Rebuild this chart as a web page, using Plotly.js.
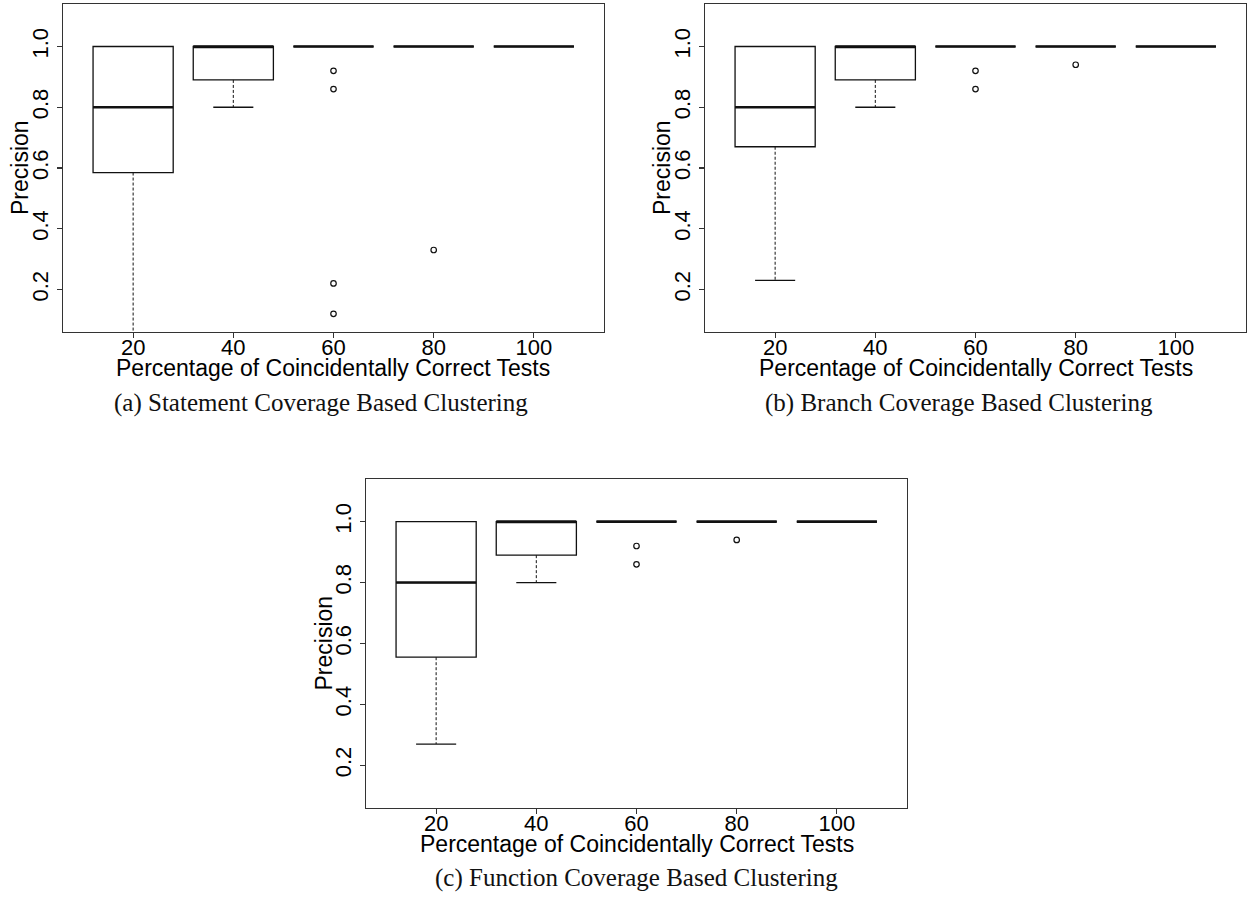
<!DOCTYPE html>
<html>
<head>
<meta charset="utf-8">
<script src="https://cdn.plot.ly/plotly-3.0.1.min.js"></script>
<style>
  html, body { margin: 0; padding: 0; background: #fff; }
  #chart { width: 1247px; height: 899px; }
</style>
</head>
<body>
<div id="chart"></div>
<script>
// ---- Data ----
const categories = ['20', '40', '60', '80', '100'];
const tickVals = [0.2, 0.4, 0.6, 0.8, 1.0];
const tickText = ['0.2', '0.4', '0.6', '0.8', '1.0'];

// (a) Statement coverage
const q1A = [0.585, 0.89, 1, 1, 1];
const medA = [0.8, 1, 1, 1, 1];
const q3A = [1, 1, 1, 1, 1];
const lowA = [0.0, 0.8, 1, 1, 1];
const highA = [1, 1, 1, 1, 1];
const outCatA = ['60', '60', '60', '60', '80'];
const outValA = [0.92, 0.86, 0.22, 0.12, 0.33];

// (b) Branch coverage
const q1B = [0.67, 0.89, 1, 1, 1];
const medB = [0.8, 1, 1, 1, 1];
const q3B = [1, 1, 1, 1, 1];
const lowB = [0.23, 0.8, 1, 1, 1];
const highB = [1, 1, 1, 1, 1];
const outCatB = ['60', '60', '80'];
const outValB = [0.92, 0.86, 0.94];

// (c) Function coverage
const q1C = [0.555, 0.89, 1, 1, 1];
const medC = [0.8, 1, 1, 1, 1];
const q3C = [1, 1, 1, 1, 1];
const lowC = [0.27, 0.8, 1, 1, 1];
const highC = [1, 1, 1, 1, 1];
const outCatC = ['60', '60', '80'];
const outValC = [0.92, 0.86, 0.94];

const captions = [
  '(a) Statement Coverage Based Clustering',
  '(b) Branch Coverage Based Clustering',
  '(c) Function Coverage Based Clustering'
];
const xTitle = 'Percentage of Coincidentally Correct Tests';
const yTitle = 'Precision';

// ---- Styles ----
const INK = '#111';
const FRAME = '#333';
const SANS = 'Liberation Sans, Arial, Helvetica, sans-serif';
const SERIF = 'Liberation Serif, Times New Roman, serif';
const BOXW = 0.8;
const STAPLE = 0.2;

const pos = categories.map((c, i) => i + 1);
const catPos = c => categories.indexOf(c) + 1;

function panelTraces(q1, med, q3, low, high, outCat, outVal, xa, ya) {
  const traces = [];
  traces.push({
    type: 'box', x: pos, q1: q1, median: med, q3: q3,
    lowerfence: q1, upperfence: q3, width: BOXW, whiskerwidth: 0,
    fillcolor: '#fff', line: { color: INK, width: 1.3 },
    boxpoints: false, hoverinfo: 'skip', showlegend: false,
    xaxis: xa, yaxis: ya
  });
  // dashed whiskers
  const wx = [], wy = [], sx = [], sy = [];
  pos.forEach((p, i) => {
    if (low[i] < q1[i]) {
      wx.push(p, p, null); wy.push(q1[i], low[i], null);
      sx.push(p - STAPLE, p + STAPLE, null); sy.push(low[i], low[i], null);
    }
    if (high[i] > q3[i]) {
      wx.push(p, p, null); wy.push(q3[i], high[i], null);
      sx.push(p - STAPLE, p + STAPLE, null); sy.push(high[i], high[i], null);
    }
  });
  traces.push({
    type: 'scatter', mode: 'lines', x: wx, y: wy,
    line: { color: INK, width: 1, dash: '3px,2px' },
    hoverinfo: 'skip', showlegend: false, xaxis: xa, yaxis: ya
  });
  traces.push({
    type: 'scatter', mode: 'lines', x: sx, y: sy,
    line: { color: INK, width: 1.3 },
    hoverinfo: 'skip', showlegend: false, xaxis: xa, yaxis: ya
  });
  // thick medians
  const mx = [], my = [];
  pos.forEach((p, i) => {
    mx.push(p - BOXW / 2, p + BOXW / 2, null); my.push(med[i], med[i], null);
  });
  traces.push({
    type: 'scatter', mode: 'lines', x: mx, y: my,
    line: { color: INK, width: 2.6 },
    hoverinfo: 'skip', showlegend: false, xaxis: xa, yaxis: ya
  });
  // outliers
  traces.push({
    type: 'scatter', mode: 'markers', x: outCat.map(catPos), y: outVal,
    marker: { symbol: 'circle-open', size: 5.5, color: INK, line: { width: 1.2, color: INK } },
    hoverinfo: 'skip', showlegend: false, xaxis: xa, yaxis: ya
  });
  return traces;
}

const data = [].concat(
  panelTraces(q1A, medA, q3A, lowA, highA, outCatA, outValA, 'x', 'y'),
  panelTraces(q1B, medB, q3B, lowB, highB, outCatB, outValB, 'x2', 'y2'),
  panelTraces(q1C, medC, q3C, lowC, highC, outCatC, outValC, 'x3', 'y3')
);

const W = 1247, H = 899;
function xAxis(domain, anchor) {
  return {
    domain: domain, anchor: anchor, range: [0.3, 5.7],
    tickmode: 'array', tickvals: pos, ticktext: categories,
    ticks: 'outside', ticklen: 5, tickwidth: 1.2, tickcolor: FRAME,
    ticklabelstandoff: -10,
    showline: true, mirror: true, linecolor: FRAME, linewidth: 1.3,
    showgrid: false, zeroline: false,
    tickfont: { family: SANS, size: 22, color: '#000' },
    fixedrange: true
  };
}
function yAxis(domain, anchor) {
  return {
    domain: domain, anchor: anchor, range: [0.06, 1.14],
    tickmode: 'array', tickvals: tickVals, ticktext: tickText, tickangle: -90,
    ticks: 'outside', ticklen: 5, tickwidth: 1.2, tickcolor: FRAME,
    showline: true, mirror: true, linecolor: FRAME, linewidth: 1.3,
    showgrid: false, zeroline: false,
    tickfont: { family: SANS, size: 22, color: '#000' },
    fixedrange: true
  };
}

// panel frames in pixels: [left, right, top, bottom]
const panels = [[63, 604, 4, 332], [705, 1246, 4, 332], [366, 907, 479, 808]];
const capPos = [[321, 403], [959, 403], [636, 878]];

const annotations = [];
panels.forEach((p, i) => {
  const cx = (p[0] + p[1]) / 2, cy = (p[2] + p[3]) / 2;
  annotations.push({
    text: xTitle, x: cx / W, y: 1 - (p[3] + 36) / H,
    font: { family: SANS, size: 23, color: '#000' }
  });
  annotations.push({
    text: yTitle, x: (p[0] - 43) / W, y: 1 - cy / H, textangle: -90,
    font: { family: SANS, size: 23, color: '#000' }
  });
  annotations.push({
    text: captions[i], x: capPos[i][0] / W, y: 1 - capPos[i][1] / H,
    font: { family: SERIF, size: 25, color: '#111' }
  });
});

const layout = {
  width: W, height: H,
  margin: { l: 0, r: 0, t: 0, b: 0 },
  paper_bgcolor: '#fff', plot_bgcolor: '#fff',
  showlegend: false,
  xaxis: xAxis([panels[0][0] / W, panels[0][1] / W], 'y'),
  yaxis: yAxis([1 - panels[0][3] / H, 1 - panels[0][2] / H], 'x'),
  xaxis2: xAxis([panels[1][0] / W, panels[1][1] / W], 'y2'),
  yaxis2: yAxis([1 - panels[1][3] / H, 1 - panels[1][2] / H], 'x2'),
  xaxis3: xAxis([panels[2][0] / W, panels[2][1] / W], 'y3'),
  yaxis3: yAxis([1 - panels[2][3] / H, 1 - panels[2][2] / H], 'x3'),
  annotations: annotations.map(a => Object.assign({
    xref: 'paper', yref: 'paper', showarrow: false,
    xanchor: 'center', yanchor: 'middle'
  }, a))
};

Plotly.newPlot('chart', data, layout, { displayModeBar: false, staticPlot: true });
</script>
</body>
</html>
